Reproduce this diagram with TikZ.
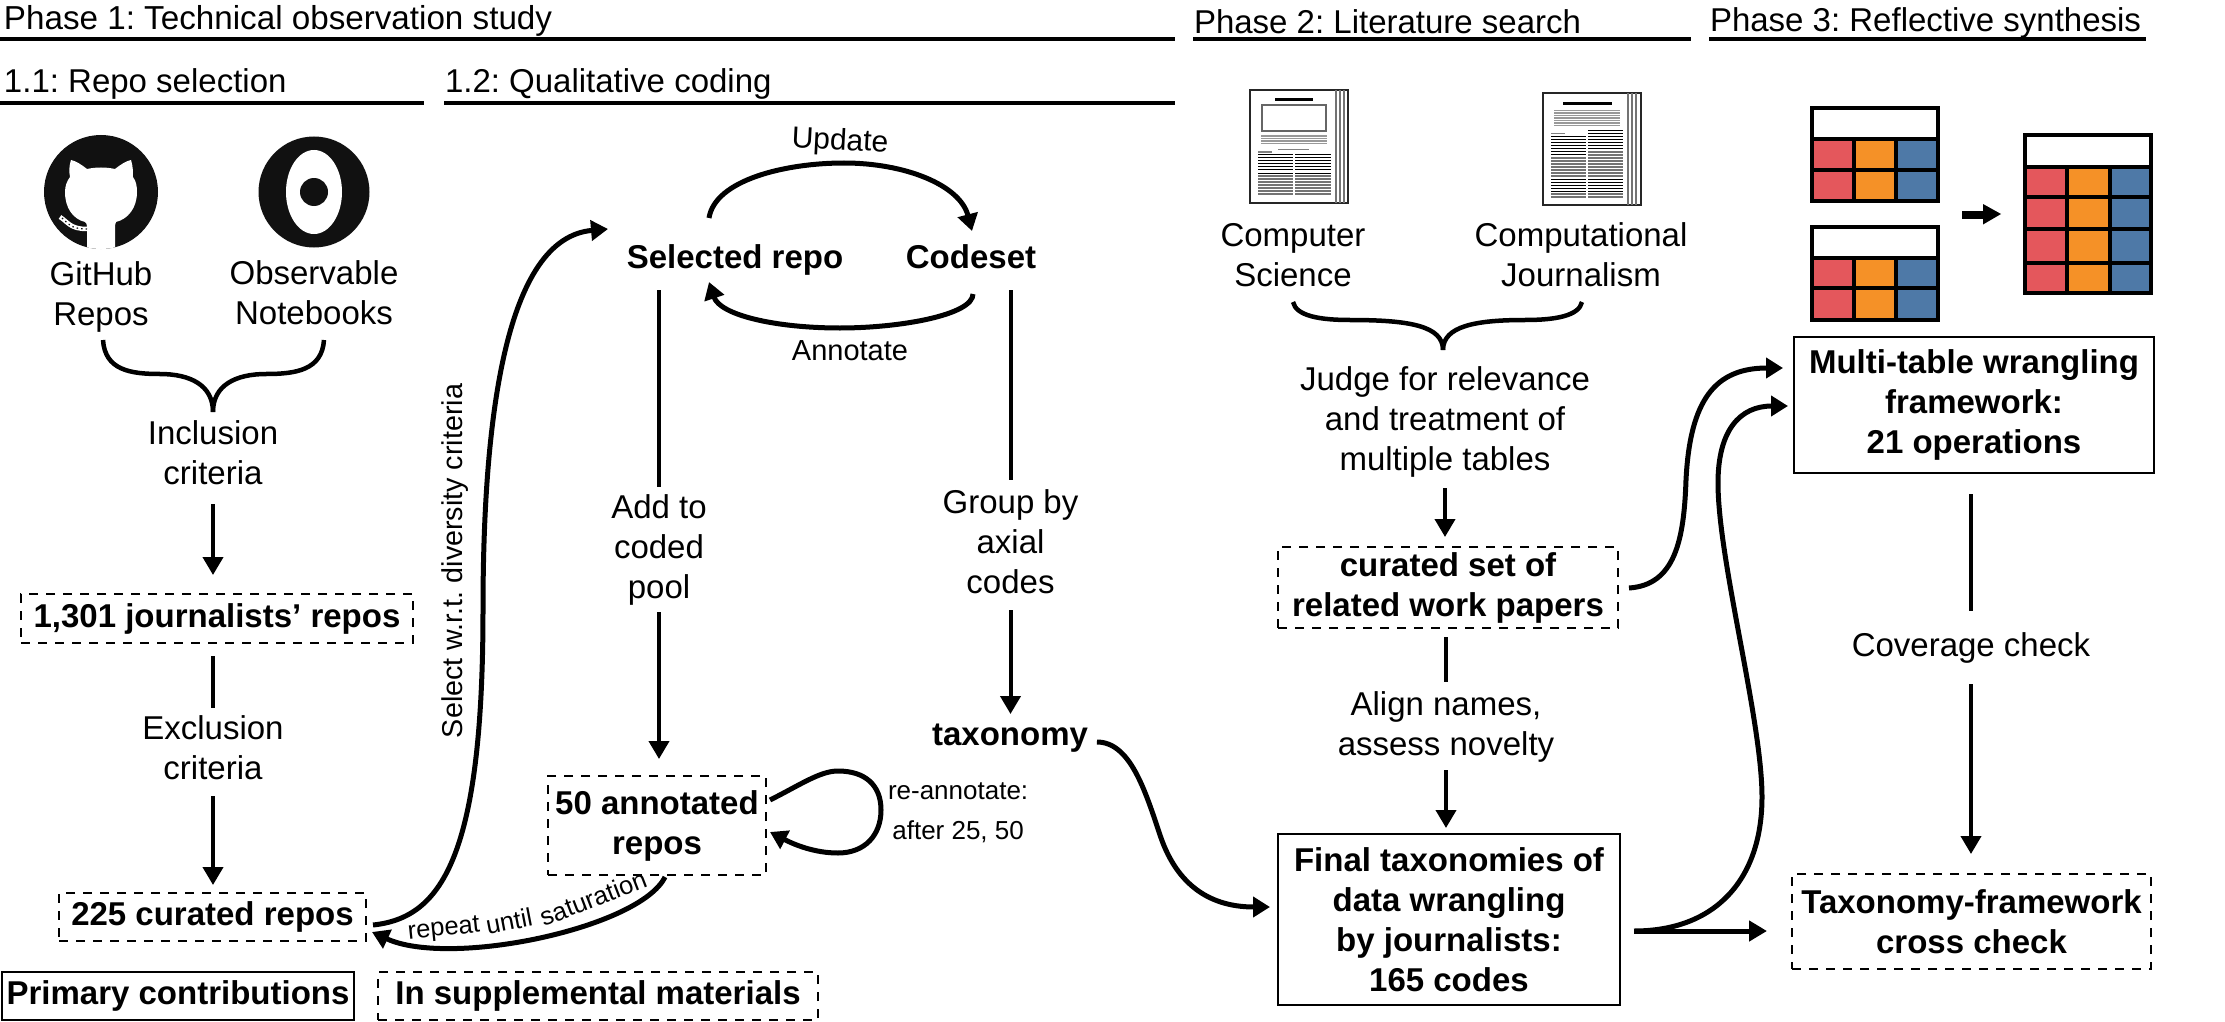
\documentclass[tikz,border=0pt]{standalone}
\usepackage{fontspec}
\setmainfont{Liberation Sans}
\usetikzlibrary{arrows.meta}
\frenchspacing
\definecolor{tred}{HTML}{E4575C}
\definecolor{torange}{HTML}{F59127}
\definecolor{tblue}{HTML}{4E79A7}
\definecolor{iconblack}{HTML}{111111}
\tikzset{
  txt/.style={align=center,inner sep=0pt,outer sep=0pt,font=\fontsize{33}{40}\selectfont},
  btxt/.style={txt,font=\fontsize{33}{40}\selectfont\bfseries},
  curvelabel/.style={txt,font=\fontsize{25.5}{30}\selectfont},
  headline/.style={line width=4.5pt},
  flow/.style={line width=4pt,-{Triangle[length=18pt,width=20pt]}},
  curve/.style={line width=5pt,-{Triangle[length=17pt,width=20pt]}},
  plain/.style={line width=4pt},
  solidbox/.style={draw,line width=2.8pt,btxt,inner sep=0pt},
  dashbox/.style={draw,line width=2.2pt,dash pattern=on 9pt off 8pt,btxt,inner sep=0pt},
  bracket/.style={line width=4.5pt},
  tbl/.style={line width=4pt,draw=black},
  blackrule/.style={line width=1pt,black},
  greyrule/.style={line width=1.4pt,black!55},
}
\newcommand{\tablegrid}[7]{% x0 x1 ybottom yheader ytop col1 col2
  \fill[tred] (#1,#4) rectangle (#6,#3);
  \fill[torange] (#6,#4) rectangle (#7,#3);
  \fill[tblue] (#7,#4) rectangle (#2,#3);
  \fill[white] (#1,#5) rectangle (#2,#4);
  \draw[tbl] (#1,#5) rectangle (#2,#3);
  \draw[tbl] (#1,#4) -- (#2,#4);
  \draw[tbl] (#6,#4) -- (#6,#3);
  \draw[tbl] (#7,#4) -- (#7,#3);
}
\begin{document}
\begin{tikzpicture}[x=1pt,y=-1pt]
\useasboundingbox (0,0) rectangle (2225,1022);
% headers
\node[txt,anchor=west,font=\fontsize{33.2}{40}\selectfont] (h1) at (4,21) {Phase 1: Technical observation study};
\node[txt,anchor=west] (h2) at (1194,22) {Phase 2: Literature search};
\node[txt,anchor=west] (h3) at (1710,23) {Phase 3: Reflective synthesis};
\node[txt,anchor=west] (h11) at (4,84) {1.1: Repo selection};
\node[txt,anchor=west] (h12) at (445,84) {1.2: Qualitative coding};
\draw[headline] (0,39) -- (1175,39);
\draw[headline] (1193,39) -- (1691,39);
\draw[headline] (1709,39) -- (2146,39);
\draw[headline] (0,103) -- (424,103);
\draw[headline] (444,103) -- (1175,103);
% github icon
\fill[iconblack] (101,192) circle (57);
\begin{scope}
\clip (101,192) circle (57);
\fill[white] (87,250) -- (87,228) .. controls (87,224) and (86,222) .. (85,222)
  .. controls (73,219) and (65,208) .. (65,192) .. controls (65,186) and (67,181) .. (70,177)
  .. controls (69,172) and (69,166) .. (71,160) .. controls (76,161) and (82,165) .. (87,169)
  .. controls (96,167) and (106,167) .. (115,169) .. controls (120,165) and (126,161) .. (131,160)
  .. controls (133,166) and (133,172) .. (133,177) .. controls (136,181) and (137,186) .. (137,192)
  .. controls (137,208) and (128,219) .. (116,222) .. controls (115,224) and (115,226) .. (115,228)
  -- (115,250) -- cycle;
\draw[white,line width=4.5pt] (60,217) .. controls (68,222) and (70,229) .. (87,229);
\draw[iconblack,line width=1.2pt,dash pattern=on 1.5pt off 3pt] (62,218) .. controls (68,223) and (70,229) .. (87,229);
\end{scope}
% observable icon
\fill[iconblack] (314,192) circle (55.5);
\fill[white] (314,192) ellipse (28 and 42);
\fill[iconblack] (314,192) circle (14);
% left column
\node[txt] (github) at (101,297) {GitHub\\Repos};
\node[txt] (observable) at (314,293) {Observable\\Notebooks};
\node[txt,minimum height=90pt] (incl) at (213,453) {Inclusion\\criteria};
\coordinate (brL) at (103,340);
\coordinate (brR) at (324,340);
\coordinate (brM) at (213,412);
\draw[bracket] (brL) .. controls (105,370) and (130,374) .. (160,374) .. controls (190,374) and (213,385) .. (brM);
\draw[bracket] (brR) .. controls (322,370) and (296,374) .. (266,374) .. controls (236,374) and (213,385) .. (brM);
\node[dashbox,minimum width=392pt,minimum height=49pt] (n1301) at (217,618.5) {1,301 journalists’ repos};
\node[txt,minimum height=80pt] (excl) at (213,748) {Exclusion\\criteria};
\node[dashbox,minimum width=307pt,minimum height=48pt] (n225) at (212.5,917) {225 curated repos};
\draw[flow,shorten <=6pt,shorten >=19pt] (incl.south) -- (incl.south |- n1301.north);
\draw[plain,shorten <=13pt] (excl.north |- n1301.south) -- (excl.north);
\draw[flow,shorten <=8pt,shorten >=8pt] (excl.south) -- (excl.south |- n225.north);
% legend
\node[solidbox,minimum width=352pt,minimum height=48pt] (leg1) at (178,996) {Primary contributions};
\node[dashbox,minimum width=440pt,minimum height=48pt] (leg2) at (598,996) {In supplemental materials};
% middle column
\node[btxt,minimum height=40pt] (sel) at (735,260) {Selected repo};
\node[btxt,minimum height=40pt] (code) at (971,257) {Codeset};
\node[txt,font=\fontsize{30}{36}\selectfont,rotate=-3] (upd) at (840,142) {Update};
\node[txt,font=\fontsize{29}{36}\selectfont] (ann) at (850,351) {Annotate};
\node[txt,minimum height=126pt] (pool) at (659,550) {Add to\\coded\\pool};
\node[txt,minimum height=124pt] (group) at (1010.5,542) {Group by\\axial\\codes};
\node[btxt,minimum height=40pt] (tax) at (1010,738) {taxonomy};
\node[dashbox,minimum width=218pt,minimum height=99pt] (n50) at (657,825.5) {50 annotated\\repos};
\node[txt,font=\fontsize{26}{40}\selectfont,anchor=west] (reann) at (888,813) {re-annotate:\\after 25, 50};
\node[txt,font=\fontsize{28.7}{34}\selectfont,rotate=90] (seltxt) at (455,561) {Select w.r.t. diversity criteria};
\draw[curve] ([shift={(-26,-22)}]sel.north) .. controls (715,180) and (785,163) .. (844,163) .. controls (905,163) and (960,185) .. ([shift={(1,-6)}]code.north);
\draw[curve] ([shift={(2,17)}]code.south) .. controls (973,315) and (900,328) .. (840,328) .. controls (775,328) and (720,315) .. ([shift={(-26,2)}]sel.south);
\draw[plain,shorten <=10pt] (pool.north |- sel.south) -- (pool.north);
\draw[flow,shorten <=-1pt,shorten >=17pt] (pool.south) -- (pool.south |- n50.north);
\draw[plain,shorten <=13pt] (group.north |- code.south) -- (group.north);
\draw[flow,shorten <=6pt,shorten >=4pt] (group.south) -- (group.south |- tax.north);
\draw[curve] ([shift={(4,-25.5)}]n50.east) .. controls (800,785) and (820,771) .. (838,771) .. controls (865,771) and (881,785) .. (881,810) .. controls (881,835) and (865,853) .. (838,853) .. controls (815,853) and (795,845) .. ([shift={(4,6.5)}]n50.east);
\draw[curve] ([shift={(8,2)}]n50.south) .. controls (640,928) and (450,968) .. ([shift={(6,15)}]n225.east);
\draw[curve] ([shift={(7,8)}]n225.east) .. controls (440,918) and (483,860) .. (483,610) .. controls (483,420) and (505,238) .. ([shift={(-127,-31)}]sel.center);
\node[curvelabel,rotate=6] (rep1) at (444,930) {repeat};
\node[curvelabel,rotate=11] (rep2) at (509,921) {until};
\node[curvelabel,rotate=21] (rep3) at (593,898) {saturation};
% phase 2 papers
\begin{scope}
\fill[white] (1250,90) rectangle (1348,203);
\draw[line width=1.6pt,black!85] (1250,90) rectangle (1348,203);
\foreach \x in {1336,1340,1344}{\draw[line width=1.3pt,black!55] (\x,90) -- (\x,203);}
\draw[line width=3pt] (1275,100) -- (1313,100);
\draw[line width=1.3pt,black!60] (1262,105) rectangle (1326,131);
\foreach \y in {136,138.5,141,143.5}{\draw[line width=1.1pt,black!40] (1261,\y) -- (1327,\y);}
\draw[line width=.7pt,black!50] (1278,149) -- (1309,149);
\draw[line width=1.1pt,black!50] (1258,152) -- (1272,152);
\foreach \y in {155,158,...,173}{\draw[blackrule] (1258,\y) -- (1293,\y);\draw[blackrule] (1295,\y) -- (1331,\y);}
\foreach \y in {176,179,...,194}{\draw[greyrule] (1258,\y) -- (1293,\y);\draw[greyrule] (1295,\y) -- (1331,\y);}
\fill[white] (1543,93) rectangle (1641,205);
\draw[line width=1.6pt,black!85] (1543,93) rectangle (1641,205);
\foreach \x in {1628,1632,1636}{\draw[line width=1.3pt,black!55] (\x,93) -- (\x,205);}
\draw[line width=3pt] (1563,103.5) -- (1612,103.5);
\foreach \y in {110.5,113,115.5,118,120.5,123,125.5}{\draw[line width=1.3pt,black!40] (1554,\y) -- (1620,\y);}
\draw[line width=1.1pt,black!50] (1551,133.5) -- (1565,133.5);
\foreach \y in {131,134,...,149}{\draw[blackrule] (1588,\y) -- (1623,\y);}
\foreach \y in {137,140,...,155}{\draw[blackrule] (1551,\y) -- (1586,\y);}
\foreach \y in {158,161,...,176}{\draw[greyrule] (1551,\y) -- (1586,\y);}
\foreach \y in {152,155,...,176}{\draw[greyrule] (1588,\y) -- (1623,\y);}
\foreach \y in {179,182,...,191}{\draw[blackrule] (1551,\y) -- (1586,\y);\draw[blackrule] (1588,\y) -- (1623,\y);}
\foreach \y in {194,197}{\draw[greyrule] (1551,\y) -- (1586,\y);\draw[greyrule] (1588,\y) -- (1623,\y);}
\end{scope}
% phase 2 text
\node[txt] (cs) at (1293,255) {Computer\\Science};
\node[txt] (cj) at (1581,255) {Computational\\Journalism};
\coordinate (bL) at (1293,302);
\coordinate (bR) at (1582,302);
\coordinate (bM) at (1443,350);
\draw[bracket] (bL) .. controls (1296,316) and (1320,320) .. (1350,320) .. controls (1410,320) and (1443,326) .. (bM);
\draw[bracket] (bR) .. controls (1579,316) and (1555,320) .. (1525,320) .. controls (1476,320) and (1443,326) .. (bM);
\node[txt,minimum height=130pt] (judge) at (1445,422) {Judge for relevance\\and treatment of\\multiple tables};
\node[dashbox,minimum width=340pt,minimum height=81pt] (cur) at (1448,587.5) {curated set of\\related work papers};
\node[txt,minimum height=84pt] (align) at (1446,727) {Align names,\\assess novelty};
\node[solidbox,minimum width=342pt,minimum height=171pt] (final) at (1449,919.5) {Final taxonomies of\\data wrangling\\by journalists:\\165 codes};
\draw[flow,shorten <=1pt,shorten >=10pt] (judge.south) -- (judge.south |- cur.north);
\draw[plain,shorten <=9pt,shorten >=3pt] (align.north |- cur.south) -- (align.north);
\draw[flow,shorten <=1pt,shorten >=6pt] (align.south) -- (align.south |- final.north);
\draw[curve] ([shift={(9,4)}]tax.east) .. controls (1130,742) and (1145,790) .. (1160,835) .. controls (1175,880) and (1205,907) .. ([shift={(-8,-12.5)}]final.west);
% phase 3
\tablegrid{1812}{1938}{201}{139}{108}{1854}{1896}
\draw[tbl] (1812,170) -- (1938,170);
\tablegrid{1812}{1938}{320}{258}{227}{1854}{1896}
\draw[tbl] (1812,288) -- (1938,288);
\tablegrid{2025}{2151}{293}{167}{135}{2067}{2110}
\draw[tbl] (2025,197) -- (2151,197);
\draw[tbl] (2025,229) -- (2151,229);
\draw[tbl] (2025,263) -- (2151,263);
\fill (1962,210.5) rectangle (1983,218.5);
\fill (1983,204) -- (2001,214) -- (1983,224.5) -- cycle;
\node[solidbox,minimum width=360pt,minimum height=136pt] (multi) at (1974,405) {Multi-table wrangling\\framework:\\21 operations};
\node[txt,minimum height=66pt] (cov) at (1971,648) {Coverage check};
\node[dashbox,minimum width=359pt,minimum height=95pt] (tf) at (1971.5,921.5) {Taxonomy-framework\\cross check};
\draw[plain,shorten <=21pt,shorten >=4pt] (cov.north |- multi.south) -- (cov.north);
\draw[flow,shorten <=3pt,shorten >=20pt] (cov.south) -- (cov.south |- tf.north);
\draw[curve] ([shift={(11,0.5)}]cur.east) .. controls (1675,585) and (1684,540) .. (1686,480) .. controls (1690,400) and (1715,368) .. ([shift={(-11,-37)}]multi.west);
\coordinate (fs) at ([shift={(14,11.5)}]final.east);
\draw[curve] (fs) .. controls (1715,931) and (1762,880) .. (1762,797) .. controls (1762,720) and (1718,560) .. (1718,483) .. controls (1718,430) and (1740,406) .. ([shift={(-6,1)}]multi.west);
\draw[flow,line width=5pt] (fs) -- ([xshift=-25pt]tf.west |- fs);
\end{tikzpicture}
\end{document}
